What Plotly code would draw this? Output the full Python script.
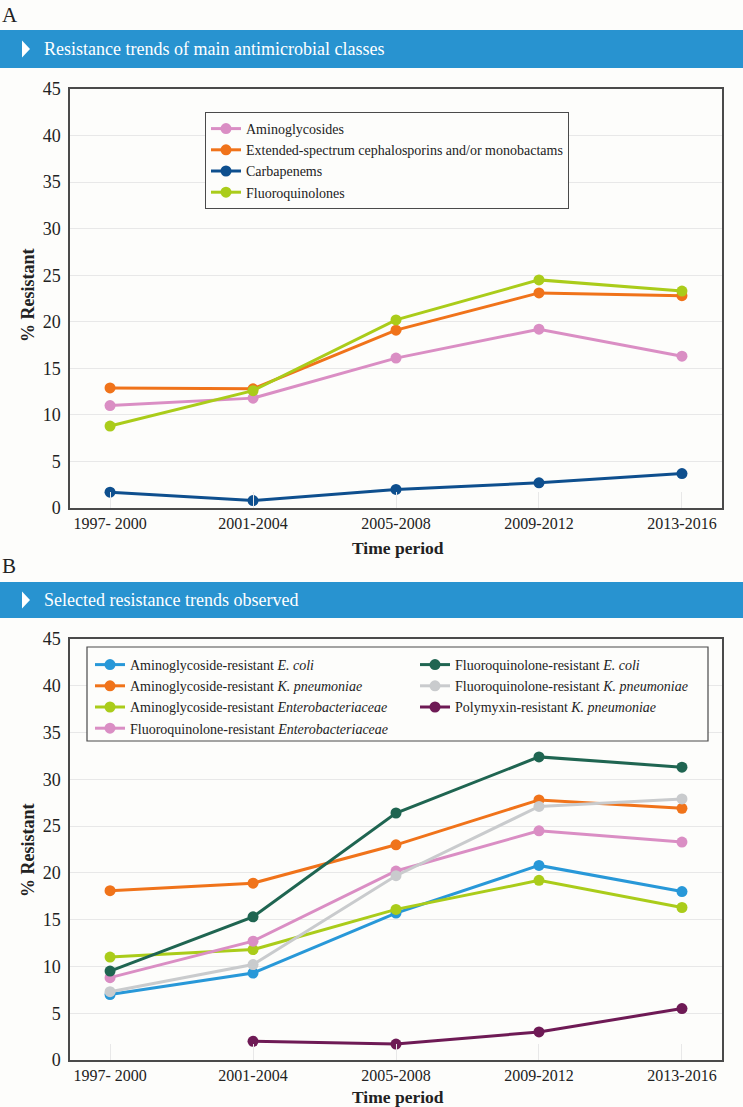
import plotly.graph_objects as go

W, H = 743, 1107

periods = ["1997- 2000", "2001-2004", "2005-2008", "2009-2012", "2013-2016"]

# Panel A
a_names = ["Aminoglycosides",
           "Extended-spectrum cephalosporins and/or monobactams",
           "Carbapenems",
           "Fluoroquinolones"]
aminoglycosides = [11.0, 11.8, 16.1, 19.2, 16.3]
ext_spectrum = [12.9, 12.8, 19.1, 23.1, 22.8]
carbapenems = [1.7, 0.8, 2.0, 2.7, 3.7]
fluoroquinolones = [8.8, 12.6, 20.2, 24.5, 23.3]
a_colors = ["#DA8EC4", "#F0731A", "#0E4F8E", "#AACC1A"]

# Panel B
b_names = ["Aminoglycoside-resistant <i>E. coli</i>",
           "Aminoglycoside-resistant <i>K. pneumoniae</i>",
           "Aminoglycoside-resistant <i>Enterobacteriaceae</i>",
           "Fluoroquinolone-resistant <i>Enterobacteriaceae</i>",
           "Fluoroquinolone-resistant <i>E. coli</i>",
           "Fluoroquinolone-resistant <i>K. pneumoniae</i>",
           "Polymyxin-resistant <i>K. pneumoniae</i>"]
ag_ecoli = [7.0, 9.3, 15.7, 20.8, 18.0]
ag_kpn = [18.1, 18.9, 23.0, 27.8, 26.9]
ag_entero = [11.0, 11.8, 16.1, 19.2, 16.3]
fq_entero = [8.8, 12.7, 20.2, 24.5, 23.3]
fq_ecoli = [9.5, 15.3, 26.4, 32.4, 31.3]
fq_kpn = [7.3, 10.2, 19.7, 27.1, 27.9]
poly_kpn = [None, 2.0, 1.7, 3.0, 5.5]
b_colors = ["#2898D8", "#F0731A", "#AACC1A", "#DA8EC4", "#1F6551", "#C9CBCD", "#6E1A55"]

yticks = [0, 5, 10, 15, 20, 25, 30, 35, 40, 45]

FONT = "Liberation Serif"
BANNER = "#2893D0"


def px(x):
    return x / W


def py(y):
    return 1 - y / H


fig = go.Figure()

a_series = [aminoglycosides, ext_spectrum, carbapenems, fluoroquinolones]
for name, vals, col in zip(a_names, a_series, a_colors):
    fig.add_trace(go.Scatter(x=periods, y=vals, name=name, mode="lines+markers",
                             line=dict(color=col, width=3),
                             marker=dict(color=col, size=11),
                             xaxis="x", yaxis="y", legend="legend"))

b_series = [ag_ecoli, ag_kpn, ag_entero, fq_entero, fq_ecoli, fq_kpn, poly_kpn]
for i, (name, vals, col) in enumerate(zip(b_names, b_series, b_colors)):
    fig.add_trace(go.Scatter(x=periods, y=vals, name=name, mode="lines+markers",
                             line=dict(color=col, width=3),
                             marker=dict(color=col, size=11),
                             xaxis="x2", yaxis="y2",
                             legend="legend2" if i < 4 else "legend3"))

xdom = [px(70), px(722)]
common_x = dict(type="category", range=[-0.28, 4.28], showline=True, mirror=True,
                linecolor="#4a4a4a", linewidth=1.5, ticks="inside", ticklen=16,
                tickcolor="#e8e8e8", tickwidth=1, showgrid=False, zeroline=False,
                automargin=False,
                tickfont=dict(family=FONT, size=16, color="#222"))
common_y = dict(range=[0, 45], tickvals=yticks, showline=True, mirror=True,
                linecolor="#4a4a4a", linewidth=1.5, showgrid=True,
                gridcolor="#e8e8e8", gridwidth=1, zeroline=False, ticks="",
                ticklabelstandoff=4, automargin=False,
                tickfont=dict(family=FONT, size=18, color="#222"))

legend_font = dict(family=FONT, size=14, color="#222")

fig.update_layout(
    width=W, height=H,
    margin=dict(l=0, r=0, t=0, b=0, autoexpand=False),
    paper_bgcolor="#FDFDFB", plot_bgcolor="#FDFDFB",
    xaxis=dict(domain=xdom, anchor="y", **common_x),
    yaxis=dict(domain=[py(508), py(89)], anchor="x", **common_y),
    xaxis2=dict(domain=xdom, anchor="y2", **common_x),
    yaxis2=dict(domain=[py(1060), py(639)], anchor="x2", **common_y),
    legend=dict(x=px(205), y=py(112), xanchor="left", yanchor="top",
                bgcolor="#FDFDFB", bordercolor="#4a4a4a", borderwidth=1,
                font=legend_font, tracegroupgap=0, itemwidth=30),
    legend2=dict(x=px(90), y=py(649), xanchor="left", yanchor="top",
                 bgcolor="rgba(0,0,0,0)", borderwidth=0,
                 font=legend_font, tracegroupgap=0, itemwidth=30),
    legend3=dict(x=px(415), y=py(649), xanchor="left", yanchor="top",
                 bgcolor="rgba(0,0,0,0)", borderwidth=0,
                 font=legend_font, tracegroupgap=0, itemwidth=30),
    showlegend=True,
)

shapes = []
# banners
for top, bot in [(30, 68), (582, 618)]:
    shapes.append(dict(type="rect", xref="paper", yref="paper", x0=0, x1=1,
                       y0=py(bot), y1=py(top), fillcolor=BANNER, line=dict(width=0),
                       layer="below"))
    mid = (top + bot) / 2
    shapes.append(dict(type="path", xref="paper", yref="paper",
                       path=f"M {px(22)},{py(mid-8.5)} L {px(30)},{py(mid)} L {px(22)},{py(mid+8.5)} Z",
                       fillcolor="white", line=dict(width=0)))
# panel B legend box
shapes.append(dict(type="rect", xref="paper", yref="paper", x0=px(87), x1=px(708),
                   y0=py(741), y1=py(647), fillcolor="#FDFDFB",
                   line=dict(color="#4a4a4a", width=1.2), layer="above"))
fig.update_layout(shapes=shapes)

ann = []
ann.append(dict(text="A", x=px(0), y=py(15), xref="paper", yref="paper",
                xanchor="left", yanchor="middle", showarrow=False,
                font=dict(family=FONT, size=21, color="#222")))
ann.append(dict(text="B", x=px(0), y=py(566), xref="paper", yref="paper",
                xanchor="left", yanchor="middle", showarrow=False,
                font=dict(family=FONT, size=21, color="#222")))
ann.append(dict(text="Resistance trends of main antimicrobial classes", x=px(42), y=py(49),
                xref="paper", yref="paper", xanchor="left", yanchor="middle", showarrow=False,
                font=dict(family=FONT, size=18, color="white")))
ann.append(dict(text="Selected resistance trends observed", x=px(42), y=py(600),
                xref="paper", yref="paper", xanchor="left", yanchor="middle", showarrow=False,
                font=dict(family=FONT, size=18, color="white")))
for cy in [295, 850]:
    ann.append(dict(text="<b>% Resistant</b>", x=px(28), y=py(cy), xref="paper", yref="paper",
                    xanchor="center", yanchor="middle", textangle=-90, showarrow=False,
                    font=dict(family=FONT, size=18, color="#222")))
for cy in [548, 1097]:
    ann.append(dict(text="<b>Time period</b>", x=px(398), y=py(cy), xref="paper", yref="paper",
                    xanchor="center", yanchor="middle", showarrow=False,
                    font=dict(family=FONT, size=17.5, color="#222")))
fig.update_layout(annotations=ann)

post = (
    "document.documentElement.style.margin='0';"
    "document.documentElement.style.overflow='hidden';"
    "document.body.style.margin='0';"
    "document.body.style.overflow='hidden';"
    "var d=document.getElementById('{plot_id}');"
    "d.style.position='fixed';d.style.top='0px';d.style.left='0px';"
)
fig.write_html("out.html", config={"displayModeBar": False}, post_script=post)
